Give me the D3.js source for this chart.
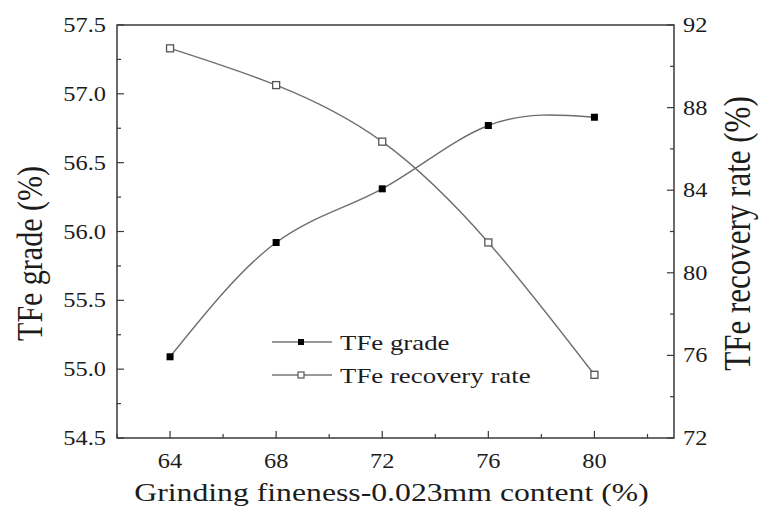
<!DOCTYPE html>
<html>
<head>
<meta charset="utf-8">
<script src="https://cdn.jsdelivr.net/npm/d3@7"></script>
<style>
  body { margin: 0; background: #fff; }
  svg text { font-family: "Times New Roman", Times, "Liberation Serif", serif; fill: #1c1c1c; }
</style>
</head>
<body>
<div id="viz"></div>
<script>
// values
const fineness = [64, 68, 72, 76, 80];
const grade = [55.09, 55.92, 56.31, 56.77, 56.83];
const recovery = [90.87, 89.09, 86.35, 81.47, 75.06];
const xTicks = [64, 68, 72, 76, 80];
const yLeftTicks = [54.5, 55.0, 55.5, 56.0, 56.5, 57.0, 57.5];
const yRightTicks = [72, 76, 80, 84, 88, 92];

const WIDTH = 762, HEIGHT = 510;
const margin = { top: 25, right: 88, bottom: 72, left: 117 };
const SX = 1.22; // the source picture is stretched sideways

const svg = d3.select("#viz").append("svg")
  .attr("width", WIDTH)
  .attr("height", HEIGHT);

const x = d3.scaleLinear().domain([62, 83]).range([margin.left, WIDTH - margin.right]);
const yL = d3.scaleLinear().domain([54.5, 57.5]).range([HEIGHT - margin.bottom, margin.top]);
const yR = d3.scaleLinear().domain([72, 92]).range([HEIGHT - margin.bottom, margin.top]);

const axisColor = "#3a3a3a";
const lineColor = "#6e6e6e";

// stretched horizontal text
function label(sel, px, py, str, size, anchor) {
  return sel.append("text")
    .attr("transform", `translate(${px},${py}) scale(${SX},1)`)
    .attr("text-anchor", anchor || "middle")
    .style("font-size", size + "px")
    .text(str);
}

// frame
const x0 = margin.left, x1 = WIDTH - margin.right, y0 = margin.top, y1 = HEIGHT - margin.bottom;
svg.append("path")
  .attr("d", `M${x0},${y0}H${x1}V${y1}H${x0}Z`)
  .attr("fill", "none")
  .attr("stroke", axisColor)
  .attr("stroke-width", 1.5);

// x ticks (inward)
const gx = svg.append("g");
d3.range(62, 83.5, 2).forEach(v => {
  const major = xTicks.includes(v);
  gx.append("line")
    .attr("x1", x(v)).attr("x2", x(v))
    .attr("y1", y1).attr("y2", y1 - (major ? 7 : 4))
    .attr("stroke", axisColor).attr("stroke-width", 1.2);
});
xTicks.forEach(v => label(gx, x(v), y1 + 30, v, 20));

// left ticks
const gl = svg.append("g");
d3.range(54.5, 57.51, 0.25).forEach(v => {
  const major = Math.abs(v * 2 - Math.round(v * 2)) < 1e-6;
  gl.append("line")
    .attr("x1", x0).attr("x2", x0 + (major ? 7 : 4))
    .attr("y1", yL(v)).attr("y2", yL(v))
    .attr("stroke", axisColor).attr("stroke-width", 1.2);
});
yLeftTicks.forEach(v => label(gl, x0 - 11, yL(v) + 7, v.toFixed(1), 20, "end"));

// right ticks
const gr = svg.append("g");
d3.range(72, 92.1, 2).forEach(v => {
  const major = v % 4 === 0;
  gr.append("line")
    .attr("x1", x1).attr("x2", x1 - (major ? 7 : 4))
    .attr("y1", yR(v)).attr("y2", yR(v))
    .attr("stroke", axisColor).attr("stroke-width", 1.2);
});
yRightTicks.forEach(v => label(gr, x1 + 9, yR(v) + 7, v, 20, "start"));

// axis titles
label(svg, (x0 + x1) / 2 - 4, 501, "Grinding fineness-0.023mm content (%)", 26);
svg.append("text")
  .attr("transform", `translate(42,${(y0 + y1) / 2 + 22}) rotate(-90) scale(1,${SX})`)
  .attr("text-anchor", "middle")
  .style("font-size", "30px")
  .text("TFe grade (%)");
svg.append("text")
  .attr("transform", `translate(750,${(y0 + y1) / 2 + 2}) rotate(-90) scale(1,${SX})`)
  .attr("text-anchor", "middle")
  .style("font-size", "31px")
  .text("TFe recovery rate (%)");

// curves
const gradePts = fineness.map((f, i) => [f, grade[i]]);
const recPts = fineness.map((f, i) => [f, recovery[i]]);

svg.append("path")
  .datum(gradePts)
  .attr("fill", "none")
  .attr("stroke", lineColor)
  .attr("stroke-width", 1.4)
  .attr("d", d3.line().x(d => x(d[0])).y(d => yL(d[1])).curve(d3.curveNatural));

svg.append("path")
  .datum(recPts)
  .attr("fill", "none")
  .attr("stroke", lineColor)
  .attr("stroke-width", 1.4)
  .attr("d", d3.line().x(d => x(d[0])).y(d => yR(d[1])).curve(d3.curveNatural));

const ms = 7;
svg.selectAll(".g-pt")
  .data(gradePts)
  .join("rect")
  .attr("class", "g-pt")
  .attr("x", d => x(d[0]) - ms / 2)
  .attr("y", d => yL(d[1]) - ms / 2)
  .attr("width", ms).attr("height", ms)
  .attr("fill", "#000");

svg.selectAll(".r-pt")
  .data(recPts)
  .join("rect")
  .attr("class", "r-pt")
  .attr("x", d => x(d[0]) - ms / 2)
  .attr("y", d => yR(d[1]) - ms / 2)
  .attr("width", ms).attr("height", ms)
  .attr("fill", "#fff")
  .attr("stroke", "#555")
  .attr("stroke-width", 1.3);

// legend
const legend = svg.append("g").attr("transform", "translate(272,342)");
[["TFe grade", true], ["TFe recovery rate", false]].forEach(([name, filled], i) => {
  const g = legend.append("g").attr("transform", `translate(0,${i * 33})`);
  g.append("line")
    .attr("x1", 0).attr("x2", 60)
    .attr("stroke", "#333").attr("stroke-width", 1.2);
  g.append("rect")
    .attr("x", 29 - 3).attr("y", -3)
    .attr("width", 6).attr("height", 6)
    .attr("fill", filled ? "#000" : "#fff")
    .attr("stroke", filled ? "none" : "#555")
    .attr("stroke-width", 1.2);
  label(g, 68, 8, name, 22, "start");
});
</script>
</body>
</html>
